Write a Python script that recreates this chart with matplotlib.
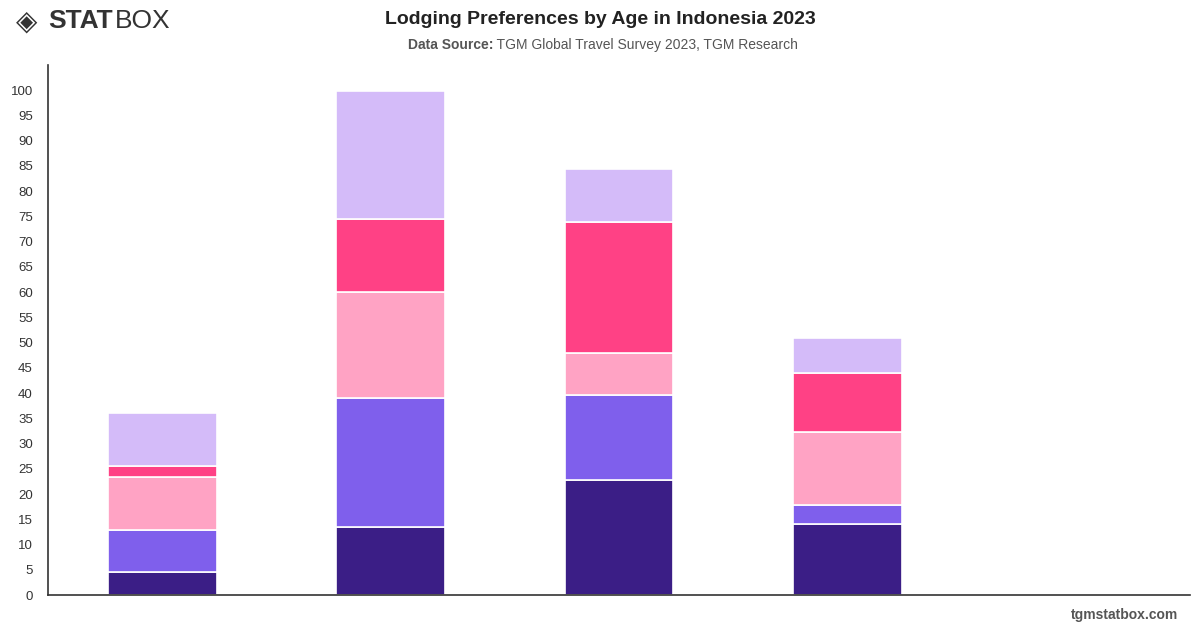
import matplotlib
matplotlib.use("Agg")
import matplotlib.pyplot as plt
import numpy as np

plt.rcParams['font.family'] = ['Liberation Sans', 'DejaVu Sans']

categories = ["18-24", "25-34", "35-44", "45-54", "55+"]
series_names = ["Hotel", "Resort", "Villa", "Homestay", "Apartment"]
hotel = [4.5, 13.5, 22.8, 14.1, 0]
resort = [8.4, 25.5, 16.8, 3.7, 0]
villa = [10.5, 21.0, 8.3, 14.5, 0]
homestay = [2.1, 14.5, 26.0, 11.7, 0]
apartment = [10.5, 25.3, 10.5, 6.9, 0]
colors = ["#3b1e86", "#7f5fec", "#ffa3c4", "#ff4185", "#d4bbf9"]
yticks = list(range(0, 101, 5))

fig = plt.figure(figsize=(12, 6.28), dpi=100)
ax = fig.add_axes([0.04, 0.0525, 0.9517, 0.844])

x = np.arange(len(categories))
bottom = np.zeros(len(categories))
for name, vals, c in zip(series_names, [hotel, resort, villa, homestay, apartment], colors):
    v = np.array(vals, dtype=float)
    ax.bar(x, v, width=0.477, bottom=bottom, color=c, edgecolor="white", linewidth=1.2, label=name, zorder=2)
    bottom += v

ax.set_xlim(-0.5, len(categories) - 0.5)
ax.set_ylim(0, 105)
ax.set_yticks(yticks)
ax.set_yticklabels([str(t) for t in yticks], fontsize=9.5, color="#333333")
ax.tick_params(axis="y", length=0, pad=11)
ax.set_xticks([])
for s in ["top", "right"]:
    ax.spines[s].set_visible(False)
ax.spines["left"].set_color("#333333")
ax.spines["bottom"].set_color("#333333")
ax.spines["left"].set_linewidth(1.2)
ax.spines["bottom"].set_linewidth(1.2)

fig.text(0.5, 0.969, "Lodging Preferences by Age in Indonesia 2023", ha="center", va="center",
         fontsize=14, fontweight="bold", color="#222222")
fig.text(0.411, 0.929, "Data Source:", ha="right", va="center", fontsize=10, fontweight="bold", color="#555555")
fig.text(0.411, 0.929, " TGM Global Travel Survey 2023, TGM Research", ha="left", va="center", fontsize=10, color="#555555")

fig.text(0.013, 0.966, "\u25c8", ha="left", va="center", fontsize=20, color="#333333", family="DejaVu Sans")
fig.text(0.040, 0.966, "STAT", ha="left", va="center", fontsize=19, fontweight="heavy", color="#333333")
fig.text(0.096, 0.966, "BOX", ha="left", va="center", fontsize=19, fontweight="light", color="#333333")

fig.text(0.982, 0.02, "tgmstatbox.com", ha="right", va="center", fontsize=10, fontweight="bold", color="#555555")

fig.savefig("out.png", dpi=100)
